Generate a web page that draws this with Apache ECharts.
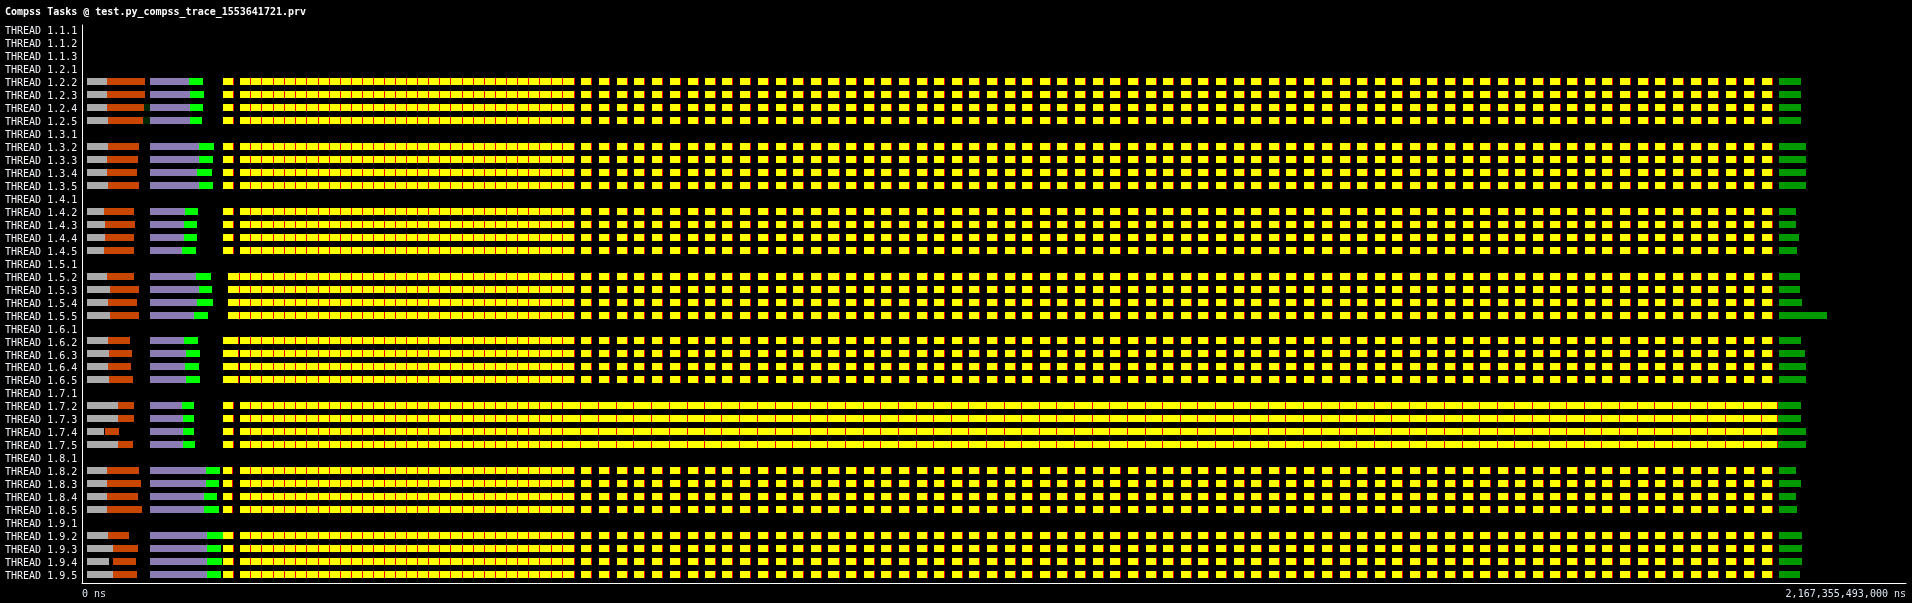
<!DOCTYPE html>
<html>
<head>
<meta charset="utf-8">
<script src="https://cdn.jsdelivr.net/npm/echarts@6/dist/echarts.min.js"></script>
<style>
html,body{margin:0;padding:0;background:#000;}
#chart{width:1912px;height:603px;}
</style>
</head>
<body>
<div id="chart"></div>
<script>
// ---------- DATA (time in seconds) ----------
const titleText = 'Compss Tasks @ test.py_compss_trace_1553641721.prv';
const threads = [
  'THREAD 1.1.1','THREAD 1.1.2','THREAD 1.1.3',
  'THREAD 1.2.1','THREAD 1.2.2','THREAD 1.2.3','THREAD 1.2.4','THREAD 1.2.5',
  'THREAD 1.3.1','THREAD 1.3.2','THREAD 1.3.3','THREAD 1.3.4','THREAD 1.3.5',
  'THREAD 1.4.1','THREAD 1.4.2','THREAD 1.4.3','THREAD 1.4.4','THREAD 1.4.5',
  'THREAD 1.5.1','THREAD 1.5.2','THREAD 1.5.3','THREAD 1.5.4','THREAD 1.5.5',
  'THREAD 1.6.1','THREAD 1.6.2','THREAD 1.6.3','THREAD 1.6.4','THREAD 1.6.5',
  'THREAD 1.7.1','THREAD 1.7.2','THREAD 1.7.3','THREAD 1.7.4','THREAD 1.7.5',
  'THREAD 1.8.1','THREAD 1.8.2','THREAD 1.8.3','THREAD 1.8.4','THREAD 1.8.5',
  'THREAD 1.9.1','THREAD 1.9.2','THREAD 1.9.3','THREAD 1.9.4','THREAD 1.9.5'
];
const axisMax = 2167.355493;
const tickLabels = ['0 ns', '2,167,355,493,000 ns'];

// worker threads 1.2.2 .. 1.9.5 (4 per node)
const workerThreads = [
  'THREAD 1.2.2','THREAD 1.2.3','THREAD 1.2.4','THREAD 1.2.5',
  'THREAD 1.3.2','THREAD 1.3.3','THREAD 1.3.4','THREAD 1.3.5',
  'THREAD 1.4.2','THREAD 1.4.3','THREAD 1.4.4','THREAD 1.4.5',
  'THREAD 1.5.2','THREAD 1.5.3','THREAD 1.5.4','THREAD 1.5.5',
  'THREAD 1.6.2','THREAD 1.6.3','THREAD 1.6.4','THREAD 1.6.5',
  'THREAD 1.7.2','THREAD 1.7.3','THREAD 1.7.4','THREAD 1.7.5',
  'THREAD 1.8.2','THREAD 1.8.3','THREAD 1.8.4','THREAD 1.8.5',
  'THREAD 1.9.2','THREAD 1.9.3','THREAD 1.9.4','THREAD 1.9.5'
];
const grayStart = 5.9;
const purpleStart = 80.8;
const grayEnd = [29.7,29.7,29.7,30.9, 30.9,29.7,29.7,30.9, 26.1,27.3,27.3,26.1, 29.7,33.3,30.9,33.3,
                 30.9,32.1,30.9,32.1, 42.8,42.8,26.1,42.8, 29.7,29.7,29.7,29.7, 30.9,36.8,32.1,36.8];
const orangeStart = [29.7,29.7,29.7,30.9, 30.9,29.7,29.7,30.9, 26.1,27.3,27.3,26.1, 29.7,33.3,30.9,33.3,
                 30.9,32.1,30.9,32.1, 42.8,42.8,27.3,42.8, 29.7,29.7,29.7,29.7, 30.9,36.8,36.8,36.8];
const orangeEnd = [74.9,74.9,73.7,72.5, 67.7,66.5,65.4,67.7, 61.8,63.0,61.8,61.8, 61.8,67.7,65.4,67.7,
                 57.0,59.4,58.2,60.6, 61.8,61.8,44.0,60.6, 67.7,70.1,66.5,71.3, 55.8,66.5,64.2,65.4];
const purpleEnd = [127.1,128.3,128.3,128.3, 139.0,139.0,136.6,139.0, 122.4,121.2,121.2,118.8, 135.5,139.0,136.6,133.1,
                 121.2,123.6,122.4,123.6, 118.8,120.0,120.0,120.0, 147.3,147.3,145.0,145.0, 148.5,148.5,148.5,148.5];
const greenEnd = [143.8,145.0,143.8,142.6, 156.8,155.7,154.5,155.7, 137.8,136.6,136.6,135.5, 153.3,154.5,155.7,149.7,
                 137.8,140.2,139.0,140.2, 133.1,133.1,133.1,134.3, 164.0,162.8,160.4,162.8, 167.5,165.2,166.4,165.2];
const darkGaps = [['THREAD 1.2.4', 73.7, 80.8], ['THREAD 1.2.5', 72.5, 80.8]];

// per node (1.2 .. 1.9): first task
const firstTask = [[167.5,181.2],[167.5,181.2],[167.5,181.2],[173.5,187.7],
                   [167.5,186.5],[167.5,181.2],[167.5,180.0],[167.5,181.2]];
// dense phase: back-to-back tasks
const denseStarts = [187.7,200.8,214.2,227.8,241.2,254.6,267.7,281.3,294.3,307.4,320.8,333.9,347.0,360.0,373.1,
                     386.2,399.6,412.7,425.7,438.8,452.4,465.8,478.9,491.9,505.0,518.4,531.5,544.6,558.1,571.9];
const denseEnd = 585.8;
// sparse phase: task starts (all nodes), each task lasts taskDuration; node 1.7 runs them back-to-back
const sparseStarts = [592.9,614.3,635.7,655.9,677.3,698.3,720.0,740.3,760.5,781.9,803.3,824.6,845.2,
                      866.0,887.0,907.9,928.9,949.9,970.8,991.7,1012.6,1033.5,1054.4,1075.4,1096.3,1117.2,
                      1138.1,1159.1,1180.0,1200.9,1221.9,1242.8,1263.7,1284.6,1305.5,1326.4,1347.3,1368.3,
                      1389.3,1410.2,1431.1,1452.0,1473.4,1494.8,1515.0,1536.4,1556.6,1578.0,1598.2,1619.6,
                      1641.0,1661.2,1682.6,1702.8,1724.2,1744.3,1764.5,1785.9,1806.1,1827.5,1848.9,1869.1,
                      1890.5,1911.9,1932.1,1953.5,1974.9,1996.2];
const taskDuration = 13.1;
const continuousNode = 'THREAD 1.7';
const continuousEnd = 2015.2;
// final (dark green) phase
const finalStart = [2016.4,2016.4,2016.4,2016.4,2016.4,2015.2,2016.4,2016.4];
const finalEnd = [2042.6,2042.6,2042.6,2042.6, 2048.5,2048.5,2048.5,2048.5, 2036.6,2036.6,2040.2,2038.4,
                  2041.4,2041.4,2043.8,2073.5, 2042.6,2047.3,2048.5,2048.5, 2042.6,2042.6,2048.5,2048.5,
                  2036.6,2042.6,2036.6,2038.4, 2043.8,2043.8,2043.8,2041.4];

// ---------- STYLE ----------
const colors = {
  gray:'#aaaaaa', orange:'#c84600', dark:'#002800', purple:'#8b7cb4',
  green:'#00ff00', yellow:'#ffff00', red:'#ff0000', endGreen:'#009a00'
};
const kinds = ['gray','orange','dark','purple','green','yellow','endGreen'];

// ---------- BUILD ITEMS ----------
const items = [];
function push(s, e, row, kind, red) { items.push([s, e, row, kinds.indexOf(kind), red ? 1 : 0]); }
workerThreads.forEach((name, w) => {
  const row = threads.indexOf(name);
  const node = Math.floor(w / 4);
  push(grayStart, grayEnd[w], row, 'gray');
  push(orangeStart[w], orangeEnd[w], row, 'orange');
  push(purpleStart, purpleEnd[w], row, 'purple');
  push(purpleEnd[w], greenEnd[w], row, 'green');
  push(firstTask[node][0], firstTask[node][1], row, 'yellow', true);
  const cont = name.indexOf(continuousNode + '.') === 0;
  denseStarts.forEach((s, i) => {
    let e = i + 1 < denseStarts.length ? denseStarts[i + 1] : (cont ? sparseStarts[0] : denseEnd);
    push(s, e, row, 'yellow', true);
  });
  sparseStarts.forEach((s, i) => {
    let e = cont ? (i + 1 < sparseStarts.length ? sparseStarts[i + 1] : continuousEnd) : s + taskDuration;
    push(s, e, row, 'yellow', true);
  });
  push(finalStart[node], finalEnd[w], row, 'endGreen');
});
darkGaps.forEach(d => push(d[1], d[2], threads.indexOf(d[0]), 'dark'));

function renderItem(params, api) {
  const row = api.value(2);
  const p0 = api.coord([api.value(0), row]);
  const p1 = api.coord([api.value(1), row]);
  const bandH = api.size([0, 1])[1];
  const top = Math.round(p0[1] - bandH / 2 + bandH * 0.08);
  const h = Math.round(bandH * 0.54);
  const x0 = Math.round(p0[0]);
  const x1 = Math.max(Math.round(p1[0]), x0 + 1);
  const kind = kinds[api.value(3)];
  const children = [{
    type: 'rect', shape: { x: x0, y: top, width: x1 - x0, height: h },
    style: { fill: colors[kind] }
  }];
  if (api.value(4)) {
    children.push({ type: 'rect', shape: { x: x1 - 1, y: top, width: 1, height: h }, style: { fill: colors.red } });
  }
  return { type: 'group', children: children };
}

const mono = 'DejaVu Sans Mono';
const chart = echarts.init(document.getElementById('chart'), null, { renderer: 'canvas' });
chart.setOption({
  backgroundColor: '#000000',
  animation: false,
  title: {
    text: titleText, left: 5, top: 7, padding: 0,
    textStyle: { color: '#ffffff', fontFamily: mono, fontSize: 10, fontWeight: 'bold' }
  },
  grid: { left: 82, right: 6, top: 25, bottom: 20, containLabel: false },
  xAxis: {
    type: 'value', min: 0, max: axisMax, interval: axisMax,
    axisLine: { show: true, lineStyle: { color: '#ffffff', width: 1 } },
    axisTick: { show: false }, splitLine: { show: false },
    axisLabel: {
      color: '#dde6f0', fontFamily: mono, fontSize: 10, margin: 6,
      showMinLabel: true, showMaxLabel: true,
      alignMinLabel: 'left', alignMaxLabel: 'right',
      formatter: v => (v < axisMax / 2 ? tickLabels[0] : tickLabels[1])
    }
  },
  yAxis: {
    type: 'category', data: threads, inverse: true,
    axisLine: { show: true, lineStyle: { color: '#ffffff', width: 1 } },
    axisTick: { show: false }, splitLine: { show: false },
    axisLabel: { color: '#f2f4f8', fontFamily: mono, fontSize: 10, align: 'left', margin: 77, interval: 0,
                 padding: [6, 0, 0, 0] }
  },
  series: [{
    type: 'custom', renderItem: renderItem, data: items,
    encode: { x: [0, 1], y: 2 }, clip: true
  }]
});
</script>
</body>
</html>
